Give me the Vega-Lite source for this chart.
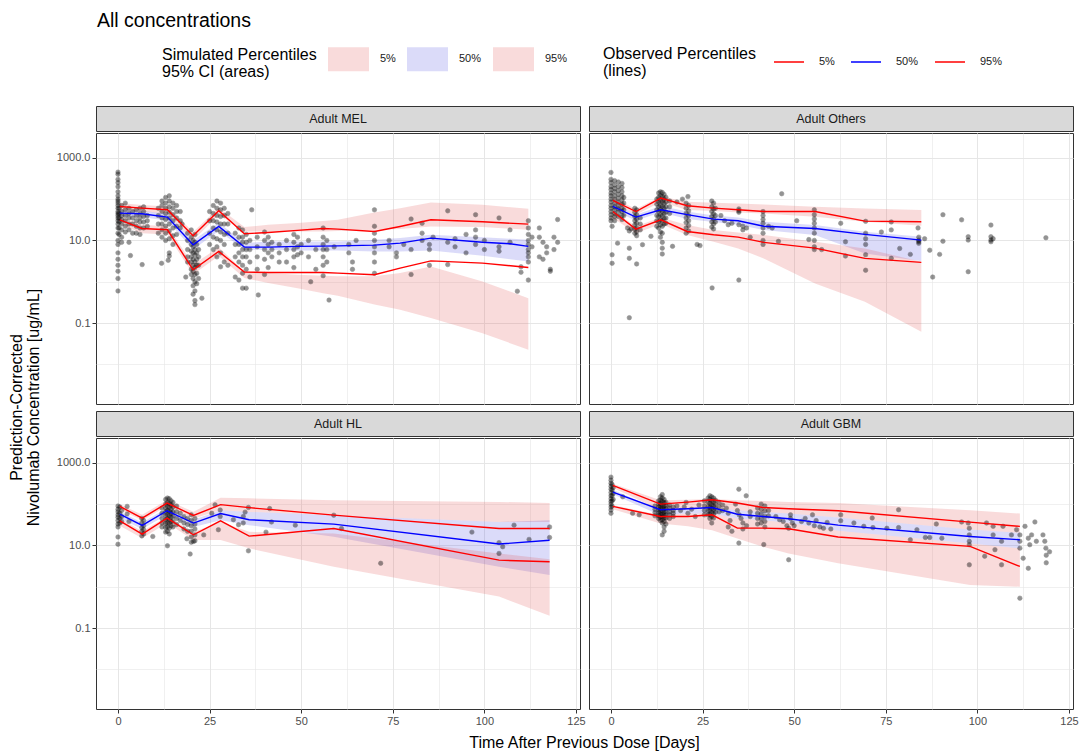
{
"$schema":"https://vega.github.io/schema/vega-lite/v6.json",
"background":"white",
"padding":{"left":0,"top":10,"right":0,"bottom":0},
"title":{"text":"All concentrations","anchor":"start","frame":"group","dx":97,"fontSize":19.5,"fontWeight":"normal","color":"#000000","offset":7.5},
"config":{
 "font":"Liberation Sans",
 "view":{"stroke":"#333333"},
 "axis":{"domain":false,"gridColor":"#e6e6e6","labelColor":"#4d4d4d","labelFontSize":11,"tickColor":"#333333","tickSize":4,"labelPadding":2,"titleFontSize":16,"titleFontWeight":"normal","titleColor":"#000000","labelFlush":false,"labelOverlap":false},
 "legend":{"labelFontSize":11,"labelColor":"#1a1a1a","titleFontSize":16,"titleFontWeight":"normal","titleColor":"#000000","titleLineHeight":17,"padding":0,"titleLimit":400}
},
"datasets":{
"rug":[
{"p":"MEL","t":0},{"p":"MEL","t":3.1},{"p":"MEL","t":9.9},{"p":"MEL","t":17},{"p":"MEL","t":23.8},{"p":"MEL","t":32},{"p":"MEL","t":44.9},{"p":"MEL","t":60.5},{"p":"MEL","t":77.5},{"p":"MEL","t":99.2},{"p":"MEL","t":119.9},
{"p":"OTH","t":0},{"p":"OTH","t":3.2},{"p":"OTH","t":9.1},{"p":"OTH","t":18.8},{"p":"OTH","t":31.3},{"p":"OTH","t":46.4},{"p":"OTH","t":62.7},{"p":"OTH","t":77.7},{"p":"OTH","t":104.6},
{"p":"HL","t":0},{"p":"HL","t":3.1},{"p":"HL","t":9.9},{"p":"HL","t":17},{"p":"HL","t":23.8},{"p":"HL","t":32.4},{"p":"HL","t":45.9},{"p":"HL","t":66.3},{"p":"HL","t":109.9},
{"p":"GBM","t":0},{"p":"GBM","t":4.1},{"p":"GBM","t":16},{"p":"GBM","t":22.9},{"p":"GBM","t":31.1},{"p":"GBM","t":37.8},{"p":"GBM","t":44.8},{"p":"GBM","t":55.9},{"p":"GBM","t":78.8},{"p":"GBM","t":99.8},{"p":"GBM","t":116.2}
],
"bands":[
{"p":"MEL","pct":"95%","t":0.5,"v":55,"v2":80},{"p":"MEL","pct":"95%","t":6.5,"v":50,"v2":72},{"p":"MEL","pct":"95%","t":13.5,"v":45,"v2":66},{"p":"MEL","pct":"95%","t":20.5,"v":10,"v2":16},{"p":"MEL","pct":"95%","t":27.5,"v":42,"v2":62},{"p":"MEL","pct":"95%","t":34.5,"v":16.5,"v2":21},{"p":"MEL","pct":"95%","t":41,"v":16.5,"v2":23.9},{"p":"MEL","pct":"95%","t":49,"v":16.5,"v2":26.3},{"p":"MEL","pct":"95%","t":56,"v":16.5,"v2":29.4},{"p":"MEL","pct":"95%","t":60,"v":17,"v2":31.6},{"p":"MEL","pct":"95%","t":70,"v":18.1,"v2":47.6},{"p":"MEL","pct":"95%","t":77,"v":19,"v2":60.5},{"p":"MEL","pct":"95%","t":85.4,"v":21.8,"v2":83},{"p":"MEL","pct":"95%","t":99.5,"v":21,"v2":73},{"p":"MEL","pct":"95%","t":112,"v":18.1,"v2":58.3},
{"p":"MEL","pct":"50%","t":0.5,"v":38,"v2":55},{"p":"MEL","pct":"50%","t":6.5,"v":37,"v2":52},{"p":"MEL","pct":"50%","t":13.5,"v":30,"v2":44},{"p":"MEL","pct":"50%","t":20.5,"v":6,"v2":10},{"p":"MEL","pct":"50%","t":27.5,"v":17,"v2":27},{"p":"MEL","pct":"50%","t":34.5,"v":5.94,"v2":8.6},{"p":"MEL","pct":"50%","t":41,"v":5.94,"v2":9.46},{"p":"MEL","pct":"50%","t":49,"v":5.73,"v2":9.46},{"p":"MEL","pct":"50%","t":56,"v":5.73,"v2":9.46},{"p":"MEL","pct":"50%","t":60,"v":5.73,"v2":9.46},{"p":"MEL","pct":"50%","t":70,"v":5.42,"v2":10.4},{"p":"MEL","pct":"50%","t":77,"v":5.42,"v2":11.4},{"p":"MEL","pct":"50%","t":85.4,"v":5.73,"v2":13.7},{"p":"MEL","pct":"50%","t":99.5,"v":4.26,"v2":12},{"p":"MEL","pct":"50%","t":112,"v":3.1,"v2":10.4},
{"p":"MEL","pct":"5%","t":0.5,"v":25,"v2":38},{"p":"MEL","pct":"5%","t":6.5,"v":15,"v2":24},{"p":"MEL","pct":"5%","t":13.5,"v":14,"v2":22},{"p":"MEL","pct":"5%","t":20.5,"v":1.5,"v2":2.6},{"p":"MEL","pct":"5%","t":27.5,"v":4.2,"v2":6.8},{"p":"MEL","pct":"5%","t":34.5,"v":1.23,"v2":1.78},{"p":"MEL","pct":"5%","t":41,"v":0.93,"v2":1.62},{"p":"MEL","pct":"5%","t":49,"v":0.7,"v2":1.48},{"p":"MEL","pct":"5%","t":56,"v":0.53,"v2":1.4},{"p":"MEL","pct":"5%","t":60,"v":0.46,"v2":1.35},{"p":"MEL","pct":"5%","t":70,"v":0.28,"v2":1.35},{"p":"MEL","pct":"5%","t":77,"v":0.21,"v2":1.62},{"p":"MEL","pct":"5%","t":85.4,"v":0.132,"v2":2.35},{"p":"MEL","pct":"5%","t":99.5,"v":0.057,"v2":1.02},{"p":"MEL","pct":"5%","t":112,"v":0.0226,"v2":0.4},
{"p":"OTH","pct":"95%","t":0.5,"v":80,"v2":110},{"p":"OTH","pct":"95%","t":6.8,"v":42,"v2":58},{"p":"OTH","pct":"95%","t":13.6,"v":85,"v2":115},{"p":"OTH","pct":"95%","t":20.8,"v":54.2,"v2":86},{"p":"OTH","pct":"95%","t":28,"v":51.3,"v2":81.5},{"p":"OTH","pct":"95%","t":34.7,"v":47.6,"v2":78.5},{"p":"OTH","pct":"95%","t":41.7,"v":45,"v2":74.3},{"p":"OTH","pct":"95%","t":55.7,"v":37.4,"v2":65.3},{"p":"OTH","pct":"95%","t":69.3,"v":28.3,"v2":59.5},{"p":"OTH","pct":"95%","t":84.7,"v":22.6,"v2":54.2},
{"p":"OTH","pct":"50%","t":0.5,"v":55,"v2":80},{"p":"OTH","pct":"50%","t":6.8,"v":30,"v2":42},{"p":"OTH","pct":"50%","t":13.6,"v":48,"v2":68},{"p":"OTH","pct":"50%","t":20.8,"v":33,"v2":50},{"p":"OTH","pct":"50%","t":28,"v":28,"v2":40},{"p":"OTH","pct":"50%","t":34.7,"v":24,"v2":36},{"p":"OTH","pct":"50%","t":41.7,"v":17.8,"v2":28.3},{"p":"OTH","pct":"50%","t":55.7,"v":13.5,"v2":23.5},{"p":"OTH","pct":"50%","t":69.3,"v":4.8,"v2":16.2},{"p":"OTH","pct":"50%","t":84.7,"v":3.2,"v2":12.3},
{"p":"OTH","pct":"5%","t":0.5,"v":35,"v2":52},{"p":"OTH","pct":"5%","t":6.8,"v":15,"v2":22},{"p":"OTH","pct":"5%","t":13.6,"v":25,"v2":36},{"p":"OTH","pct":"5%","t":20.8,"v":13.5,"v2":23.5},{"p":"OTH","pct":"5%","t":28,"v":9.3,"v2":17.8},{"p":"OTH","pct":"5%","t":34.7,"v":6.4,"v2":15.6},{"p":"OTH","pct":"5%","t":41.7,"v":3.67,"v2":13.5},{"p":"OTH","pct":"5%","t":55.7,"v":0.91,"v2":9.3},{"p":"OTH","pct":"5%","t":69.3,"v":0.33,"v2":6.4},{"p":"OTH","pct":"5%","t":84.7,"v":0.062,"v2":3.05},
{"p":"HL","pct":"95%","t":0.5,"v":75,"v2":100},{"p":"HL","pct":"95%","t":6.6,"v":40,"v2":55},{"p":"HL","pct":"95%","t":13.4,"v":90,"v2":125},{"p":"HL","pct":"95%","t":20.6,"v":45,"v2":65},{"p":"HL","pct":"95%","t":28,"v":71,"v2":143},{"p":"HL","pct":"95%","t":35.8,"v":64.7,"v2":138},{"p":"HL","pct":"95%","t":58.9,"v":53.8,"v2":124},{"p":"HL","pct":"95%","t":104,"v":37,"v2":113},{"p":"HL","pct":"95%","t":117.8,"v":37,"v2":107},
{"p":"HL","pct":"50%","t":0.5,"v":45,"v2":65},{"p":"HL","pct":"50%","t":6.6,"v":25,"v2":36},{"p":"HL","pct":"50%","t":13.4,"v":55,"v2":80},{"p":"HL","pct":"50%","t":20.6,"v":28,"v2":42},{"p":"HL","pct":"50%","t":28,"v":40.7,"v2":71},{"p":"HL","pct":"50%","t":35.8,"v":30.9,"v2":64.7},{"p":"HL","pct":"50%","t":58.9,"v":16.2,"v2":53.8},{"p":"HL","pct":"50%","t":104,"v":3.06,"v2":37},{"p":"HL","pct":"50%","t":117.8,"v":1.93,"v2":40.7},
{"p":"HL","pct":"5%","t":0.5,"v":30,"v2":45},{"p":"HL","pct":"5%","t":6.6,"v":15,"v2":22},{"p":"HL","pct":"5%","t":13.4,"v":35,"v2":50},{"p":"HL","pct":"5%","t":20.6,"v":13.5,"v2":21},{"p":"HL","pct":"5%","t":28,"v":13.5,"v2":37},{"p":"HL","pct":"5%","t":35.8,"v":8.5,"v2":21.3},{"p":"HL","pct":"5%","t":58.9,"v":3.06,"v2":19.5},{"p":"HL","pct":"5%","t":104,"v":0.58,"v2":6.4},{"p":"HL","pct":"5%","t":117.8,"v":0.198,"v2":4.6},
{"p":"GBM","pct":"95%","t":0.5,"v":250,"v2":312},{"p":"GBM","pct":"95%","t":13.5,"v":71,"v2":124},{"p":"GBM","pct":"95%","t":21,"v":78,"v2":128},{"p":"GBM","pct":"95%","t":27.6,"v":82,"v2":133},{"p":"GBM","pct":"95%","t":34.5,"v":71,"v2":124},{"p":"GBM","pct":"95%","t":41.5,"v":64.7,"v2":119},{"p":"GBM","pct":"95%","t":48.5,"v":59,"v2":113},{"p":"GBM","pct":"95%","t":62,"v":47.3,"v2":107},{"p":"GBM","pct":"95%","t":98,"v":24.3,"v2":71},{"p":"GBM","pct":"95%","t":111.6,"v":20.2,"v2":59},
{"p":"GBM","pct":"50%","t":0.5,"v":173,"v2":223},{"p":"GBM","pct":"50%","t":13.5,"v":53.8,"v2":71},{"p":"GBM","pct":"50%","t":21,"v":59,"v2":78},{"p":"GBM","pct":"50%","t":27.6,"v":59,"v2":82},{"p":"GBM","pct":"50%","t":34.5,"v":44.8,"v2":71},{"p":"GBM","pct":"50%","t":41.5,"v":40.7,"v2":64.7},{"p":"GBM","pct":"50%","t":48.5,"v":35.2,"v2":59},{"p":"GBM","pct":"50%","t":62,"v":22.6,"v2":47.3},{"p":"GBM","pct":"50%","t":98,"v":11.2,"v2":24.3},{"p":"GBM","pct":"50%","t":111.6,"v":8.5,"v2":20.2},
{"p":"GBM","pct":"5%","t":0.5,"v":75,"v2":95},{"p":"GBM","pct":"5%","t":13.5,"v":33.9,"v2":53.8},{"p":"GBM","pct":"5%","t":21,"v":29.2,"v2":59},{"p":"GBM","pct":"5%","t":27.6,"v":23.4,"v2":59},{"p":"GBM","pct":"5%","t":34.5,"v":14.8,"v2":44.8},{"p":"GBM","pct":"5%","t":41.5,"v":9.3,"v2":40.7},{"p":"GBM","pct":"5%","t":48.5,"v":6.4,"v2":35.2},{"p":"GBM","pct":"5%","t":62,"v":3.68,"v2":22.6},{"p":"GBM","pct":"5%","t":98,"v":1.1,"v2":11.2},{"p":"GBM","pct":"5%","t":111.6,"v":1.0,"v2":8.5}
],
"lines":[
{"p":"MEL","q":"95%","t":0.5,"v":66.5},{"p":"MEL","q":"95%","t":6.5,"v":60.5},{"p":"MEL","q":"95%","t":13.5,"v":55.2},{"p":"MEL","q":"95%","t":20.5,"v":13},{"p":"MEL","q":"95%","t":27.5,"v":52.3},{"p":"MEL","q":"95%","t":34.5,"v":14.5},{"p":"MEL","q":"95%","t":41,"v":15.6},{"p":"MEL","q":"95%","t":49,"v":17.5},{"p":"MEL","q":"95%","t":56,"v":19.5},{"p":"MEL","q":"95%","t":60,"v":18.8},{"p":"MEL","q":"95%","t":70,"v":16.5},{"p":"MEL","q":"95%","t":77,"v":21.8},{"p":"MEL","q":"95%","t":85.4,"v":31.6},{"p":"MEL","q":"95%","t":99.5,"v":28.3},{"p":"MEL","q":"95%","t":112,"v":24.8},
{"p":"MEL","q":"50%","t":0.5,"v":45.8},{"p":"MEL","q":"50%","t":6.5,"v":44.2},{"p":"MEL","q":"50%","t":13.5,"v":36.7},{"p":"MEL","q":"50%","t":20.5,"v":7.85},{"p":"MEL","q":"50%","t":27.5,"v":21.8},{"p":"MEL","q":"50%","t":34.5,"v":6.9},{"p":"MEL","q":"50%","t":41,"v":6.9},{"p":"MEL","q":"50%","t":49,"v":7.2},{"p":"MEL","q":"50%","t":56,"v":7.3},{"p":"MEL","q":"50%","t":60,"v":7.4},{"p":"MEL","q":"50%","t":70,"v":7.7},{"p":"MEL","q":"50%","t":77,"v":8.6},{"p":"MEL","q":"50%","t":85.4,"v":11.4},{"p":"MEL","q":"50%","t":99.5,"v":9},{"p":"MEL","q":"50%","t":107,"v":8.3},{"p":"MEL","q":"50%","t":112,"v":7.2},
{"p":"MEL","q":"5%","t":0.5,"v":31.6},{"p":"MEL","q":"5%","t":6.5,"v":19.5},{"p":"MEL","q":"5%","t":13.5,"v":18.1},{"p":"MEL","q":"5%","t":20.5,"v":1.95},{"p":"MEL","q":"5%","t":27.5,"v":5.4},{"p":"MEL","q":"5%","t":34.5,"v":1.71},{"p":"MEL","q":"5%","t":41,"v":1.68},{"p":"MEL","q":"5%","t":49,"v":1.68},{"p":"MEL","q":"5%","t":56,"v":1.68},{"p":"MEL","q":"5%","t":60,"v":1.62},{"p":"MEL","q":"5%","t":70,"v":1.48},{"p":"MEL","q":"5%","t":77,"v":2.14},{"p":"MEL","q":"5%","t":85.4,"v":3.2},{"p":"MEL","q":"5%","t":99.5,"v":2.83},{"p":"MEL","q":"5%","t":112,"v":2.22},
{"p":"OTH","q":"95%","t":0.5,"v":93},{"p":"OTH","q":"95%","t":6.8,"v":50},{"p":"OTH","q":"95%","t":13.6,"v":106},{"p":"OTH","q":"95%","t":20.8,"v":69},{"p":"OTH","q":"95%","t":28,"v":60.5},{"p":"OTH","q":"95%","t":34.7,"v":55.2},{"p":"OTH","q":"95%","t":41.7,"v":50.3},{"p":"OTH","q":"95%","t":55.7,"v":50.3},{"p":"OTH","q":"95%","t":69.3,"v":29.4},{"p":"OTH","q":"95%","t":84.7,"v":28.3},
{"p":"OTH","q":"50%","t":0.5,"v":66.5},{"p":"OTH","q":"50%","t":6.8,"v":36.7},{"p":"OTH","q":"50%","t":13.6,"v":55.2},{"p":"OTH","q":"50%","t":20.8,"v":42},{"p":"OTH","q":"50%","t":28,"v":32.8},{"p":"OTH","q":"50%","t":34.7,"v":30},{"p":"OTH","q":"50%","t":41.7,"v":22},{"p":"OTH","q":"50%","t":55.7,"v":19.5},{"p":"OTH","q":"50%","t":69.3,"v":14},{"p":"OTH","q":"50%","t":84.7,"v":10.2},
{"p":"OTH","q":"5%","t":0.5,"v":50.3},{"p":"OTH","q":"5%","t":6.8,"v":18.8},{"p":"OTH","q":"5%","t":13.6,"v":31.6},{"p":"OTH","q":"5%","t":20.8,"v":16.5},{"p":"OTH","q":"5%","t":28,"v":13.7},{"p":"OTH","q":"5%","t":34.7,"v":12},{"p":"OTH","q":"5%","t":41.7,"v":8.95},{"p":"OTH","q":"5%","t":55.7,"v":6.5},{"p":"OTH","q":"5%","t":69.3,"v":3.67},{"p":"OTH","q":"5%","t":84.7,"v":2.94},
{"p":"HL","q":"95%","t":0.5,"v":88},{"p":"HL","q":"95%","t":6.6,"v":45.8},{"p":"HL","q":"95%","t":13.4,"v":106},{"p":"HL","q":"95%","t":20.6,"v":53},{"p":"HL","q":"95%","t":28,"v":97},{"p":"HL","q":"95%","t":35.8,"v":82},{"p":"HL","q":"95%","t":58.9,"v":54},{"p":"HL","q":"95%","t":104,"v":25.7},{"p":"HL","q":"95%","t":117.8,"v":25.7},
{"p":"HL","q":"50%","t":0.5,"v":57},{"p":"HL","q":"50%","t":6.6,"v":30.5},{"p":"HL","q":"50%","t":13.4,"v":69},{"p":"HL","q":"50%","t":20.6,"v":34.7},{"p":"HL","q":"50%","t":28,"v":59},{"p":"HL","q":"50%","t":35.8,"v":42},{"p":"HL","q":"50%","t":58.9,"v":32.7},{"p":"HL","q":"50%","t":104,"v":10.8},{"p":"HL","q":"50%","t":117.8,"v":13.4},
{"p":"HL","q":"5%","t":0.5,"v":39.5},{"p":"HL","q":"5%","t":6.6,"v":18.8},{"p":"HL","q":"5%","t":13.4,"v":45.8},{"p":"HL","q":"5%","t":20.6,"v":18.1},{"p":"HL","q":"5%","t":28,"v":39.4},{"p":"HL","q":"5%","t":35.8,"v":16.8},{"p":"HL","q":"5%","t":58.9,"v":25.7},{"p":"HL","q":"5%","t":104,"v":4.4},{"p":"HL","q":"5%","t":117.8,"v":4.04},
{"p":"GBM","q":"95%","t":0.5,"v":283},{"p":"GBM","q":"95%","t":13.5,"v":100},{"p":"GBM","q":"95%","t":21,"v":112},{"p":"GBM","q":"95%","t":27.6,"v":127},{"p":"GBM","q":"95%","t":34.5,"v":106},{"p":"GBM","q":"95%","t":41.5,"v":83},{"p":"GBM","q":"95%","t":48.5,"v":77},{"p":"GBM","q":"95%","t":62,"v":69},{"p":"GBM","q":"95%","t":98,"v":36.7},{"p":"GBM","q":"95%","t":111.6,"v":28.9},
{"p":"GBM","q":"50%","t":0.5,"v":195},{"p":"GBM","q":"50%","t":13.5,"v":73},{"p":"GBM","q":"50%","t":21,"v":77},{"p":"GBM","q":"50%","t":27.6,"v":83},{"p":"GBM","q":"50%","t":34.5,"v":57},{"p":"GBM","q":"50%","t":41.5,"v":50.3},{"p":"GBM","q":"50%","t":48.5,"v":44.2},{"p":"GBM","q":"50%","t":62,"v":31},{"p":"GBM","q":"50%","t":98,"v":16.5},{"p":"GBM","q":"50%","t":111.6,"v":13.7},
{"p":"GBM","q":"5%","t":0.5,"v":88},{"p":"GBM","q":"5%","t":13.5,"v":50.3},{"p":"GBM","q":"5%","t":21,"v":50.3},{"p":"GBM","q":"5%","t":27.6,"v":55.2},{"p":"GBM","q":"5%","t":34.5,"v":26.3},{"p":"GBM","q":"5%","t":41.5,"v":26.3},{"p":"GBM","q":"5%","t":48.5,"v":25.3},{"p":"GBM","q":"5%","t":62,"v":16},{"p":"GBM","q":"5%","t":98,"v":9.5},{"p":"GBM","q":"5%","t":111.6,"v":3.1}
],
"obs":[
{"p":"MEL","t":0,"v":450},{"p":"MEL","t":0,"v":400},{"p":"MEL","t":0,"v":300},{"p":"MEL","t":0,"v":250},{"p":"MEL","t":0,"v":200},{"p":"MEL","t":0,"v":150},{"p":"MEL","t":0,"v":120},{"p":"MEL","t":0,"v":100},{"p":"MEL","t":0,"v":90},{"p":"MEL","t":0,"v":80},{"p":"MEL","t":0,"v":70},{"p":"MEL","t":0,"v":60},{"p":"MEL","t":0,"v":50},{"p":"MEL","t":0,"v":45},{"p":"MEL","t":0,"v":40},{"p":"MEL","t":0,"v":35},{"p":"MEL","t":0,"v":30},{"p":"MEL","t":0,"v":25},{"p":"MEL","t":0,"v":20},{"p":"MEL","t":0,"v":15},{"p":"MEL","t":0,"v":10},{"p":"MEL","t":0,"v":8},{"p":"MEL","t":0,"v":5},{"p":"MEL","t":0,"v":3.5},{"p":"MEL","t":0,"v":2.5},{"p":"MEL","t":0,"v":1.8},{"p":"MEL","t":0,"v":1.2},{"p":"MEL","t":0,"v":0.6},
{"p":"MEL","t":0.3,"v":60},{"p":"MEL","t":0.3,"v":45},{"p":"MEL","t":0.3,"v":35},{"p":"MEL","t":0.3,"v":28},{"p":"MEL","t":0.3,"v":20},{"p":"MEL","t":0.3,"v":14},
{"p":"MEL","t":1,"v":70},{"p":"MEL","t":1,"v":50},{"p":"MEL","t":1,"v":40},{"p":"MEL","t":1,"v":32},{"p":"MEL","t":1,"v":25},{"p":"MEL","t":1,"v":18},{"p":"MEL","t":1,"v":12},{"p":"MEL","t":1,"v":9},
{"p":"MEL","t":2,"v":80},{"p":"MEL","t":2,"v":55},{"p":"MEL","t":2,"v":40},{"p":"MEL","t":2,"v":30},{"p":"MEL","t":2,"v":22},{"p":"MEL","t":2,"v":16},
{"p":"MEL","t":3,"v":60},{"p":"MEL","t":3,"v":45},{"p":"MEL","t":3,"v":35},{"p":"MEL","t":3,"v":25},{"p":"MEL","t":3,"v":18},{"p":"MEL","t":3,"v":9},{"p":"MEL","t":3.4,"v":4.3},
{"p":"MEL","t":4,"v":50},{"p":"MEL","t":4,"v":35},{"p":"MEL","t":4,"v":25},{"p":"MEL","t":4,"v":15},
{"p":"MEL","t":5,"v":55},{"p":"MEL","t":5,"v":40},{"p":"MEL","t":5,"v":30},{"p":"MEL","t":5,"v":22},{"p":"MEL","t":5,"v":15},
{"p":"MEL","t":6,"v":60},{"p":"MEL","t":6,"v":45},{"p":"MEL","t":6,"v":35},{"p":"MEL","t":6,"v":28},{"p":"MEL","t":6,"v":20},{"p":"MEL","t":6,"v":14},{"p":"MEL","t":6.6,"v":2.6},
{"p":"MEL","t":7,"v":65},{"p":"MEL","t":7,"v":50},{"p":"MEL","t":7,"v":38},{"p":"MEL","t":7,"v":28},{"p":"MEL","t":7,"v":20},
{"p":"MEL","t":8,"v":40},{"p":"MEL","t":8,"v":30},{"p":"MEL","t":8,"v":22},
{"p":"MEL","t":11,"v":60},{"p":"MEL","t":11,"v":40},{"p":"MEL","t":11,"v":25},{"p":"MEL","t":11,"v":15},{"p":"MEL","t":11.9,"v":2.8},
{"p":"MEL","t":12,"v":90},{"p":"MEL","t":12,"v":70},{"p":"MEL","t":12,"v":50},{"p":"MEL","t":12,"v":35},{"p":"MEL","t":12,"v":25},{"p":"MEL","t":12,"v":18},{"p":"MEL","t":12,"v":12},
{"p":"MEL","t":13,"v":110},{"p":"MEL","t":13,"v":80},{"p":"MEL","t":13,"v":60},{"p":"MEL","t":13,"v":45},{"p":"MEL","t":13,"v":32},{"p":"MEL","t":13,"v":22},{"p":"MEL","t":13,"v":15},{"p":"MEL","t":13,"v":10},{"p":"MEL","t":13.7,"v":3.3},
{"p":"MEL","t":14,"v":120},{"p":"MEL","t":14,"v":90},{"p":"MEL","t":14,"v":65},{"p":"MEL","t":14,"v":48},{"p":"MEL","t":14,"v":35},{"p":"MEL","t":14,"v":25},{"p":"MEL","t":14,"v":17},{"p":"MEL","t":14,"v":11},{"p":"MEL","t":14,"v":5},{"p":"MEL","t":14,"v":4.2},
{"p":"MEL","t":15,"v":80},{"p":"MEL","t":15,"v":60},{"p":"MEL","t":15,"v":42},{"p":"MEL","t":15,"v":30},{"p":"MEL","t":15,"v":20},{"p":"MEL","t":15,"v":13},{"p":"MEL","t":15,"v":8},
{"p":"MEL","t":16,"v":70},{"p":"MEL","t":16,"v":50},{"p":"MEL","t":16,"v":35},{"p":"MEL","t":16,"v":22},{"p":"MEL","t":16,"v":14},
{"p":"MEL","t":17,"v":50},{"p":"MEL","t":17,"v":30},{"p":"MEL","t":17,"v":20},{"p":"MEL","t":17.5,"v":25},{"p":"MEL","t":18.5,"v":1.3},
{"p":"MEL","t":19,"v":15},{"p":"MEL","t":19,"v":10},{"p":"MEL","t":19,"v":6},{"p":"MEL","t":19,"v":4},{"p":"MEL","t":19,"v":3},
{"p":"MEL","t":20,"v":18},{"p":"MEL","t":20,"v":12},{"p":"MEL","t":20,"v":8},{"p":"MEL","t":20,"v":5.5},{"p":"MEL","t":20,"v":4},{"p":"MEL","t":20,"v":3},{"p":"MEL","t":20,"v":2},{"p":"MEL","t":20,"v":1.5},
{"p":"MEL","t":20.5,"v":10},{"p":"MEL","t":20.5,"v":7},{"p":"MEL","t":20.5,"v":5},{"p":"MEL","t":20.5,"v":3.5},{"p":"MEL","t":20.5,"v":2.5},{"p":"MEL","t":20.5,"v":1.8},{"p":"MEL","t":20.5,"v":1.2},{"p":"MEL","t":20.5,"v":0.8},{"p":"MEL","t":20.5,"v":0.5},
{"p":"MEL","t":21,"v":14},{"p":"MEL","t":21,"v":9},{"p":"MEL","t":21,"v":6},{"p":"MEL","t":21,"v":4.5},{"p":"MEL","t":21,"v":3},{"p":"MEL","t":21,"v":2.2},{"p":"MEL","t":21,"v":1.5},{"p":"MEL","t":21,"v":1},{"p":"MEL","t":21,"v":0.6},{"p":"MEL","t":21,"v":0.35},{"p":"MEL","t":21,"v":0.28},
{"p":"MEL","t":21.5,"v":8},{"p":"MEL","t":21.5,"v":5},{"p":"MEL","t":21.5,"v":3.5},{"p":"MEL","t":21.5,"v":2.5},{"p":"MEL","t":21.5,"v":1.6},{"p":"MEL","t":21.5,"v":0.9},
{"p":"MEL","t":22,"v":6},{"p":"MEL","t":22,"v":4},{"p":"MEL","t":22,"v":2.5},{"p":"MEL","t":22,"v":1.2},{"p":"MEL","t":22.9,"v":0.4},
{"p":"MEL","t":25,"v":50},{"p":"MEL","t":25,"v":30},{"p":"MEL","t":25,"v":15},{"p":"MEL","t":25,"v":8},
{"p":"MEL","t":26,"v":70},{"p":"MEL","t":26,"v":45},{"p":"MEL","t":26,"v":30},{"p":"MEL","t":26,"v":20},{"p":"MEL","t":26,"v":12},{"p":"MEL","t":26,"v":6},
{"p":"MEL","t":27,"v":90},{"p":"MEL","t":27,"v":60},{"p":"MEL","t":27,"v":40},{"p":"MEL","t":27,"v":28},{"p":"MEL","t":27,"v":18},{"p":"MEL","t":27,"v":11},{"p":"MEL","t":27,"v":7},{"p":"MEL","t":27,"v":4},
{"p":"MEL","t":28,"v":80},{"p":"MEL","t":28,"v":55},{"p":"MEL","t":28,"v":38},{"p":"MEL","t":28,"v":25},{"p":"MEL","t":28,"v":16},{"p":"MEL","t":28,"v":10},{"p":"MEL","t":28,"v":5},{"p":"MEL","t":28,"v":2.3},
{"p":"MEL","t":29,"v":60},{"p":"MEL","t":29,"v":40},{"p":"MEL","t":29,"v":25},{"p":"MEL","t":29,"v":14},{"p":"MEL","t":29,"v":8},{"p":"MEL","t":29,"v":3},
{"p":"MEL","t":30,"v":45},{"p":"MEL","t":30,"v":25},{"p":"MEL","t":30,"v":15},{"p":"MEL","t":30,"v":2.5},
{"p":"MEL","t":32,"v":15},{"p":"MEL","t":32,"v":8},{"p":"MEL","t":32,"v":4},{"p":"MEL","t":32,"v":1.3},
{"p":"MEL","t":33,"v":20},{"p":"MEL","t":33,"v":12},{"p":"MEL","t":33,"v":8},{"p":"MEL","t":33,"v":5},{"p":"MEL","t":33,"v":3},{"p":"MEL","t":33,"v":1.1},
{"p":"MEL","t":34,"v":18},{"p":"MEL","t":34,"v":12},{"p":"MEL","t":34,"v":9},{"p":"MEL","t":34,"v":6},{"p":"MEL","t":34,"v":4},{"p":"MEL","t":34,"v":2.5},{"p":"MEL","t":34,"v":1.6},{"p":"MEL","t":34,"v":0.7},
{"p":"MEL","t":35,"v":14},{"p":"MEL","t":35,"v":9},{"p":"MEL","t":35,"v":6},{"p":"MEL","t":35,"v":4},{"p":"MEL","t":35,"v":2},{"p":"MEL","t":35,"v":0.7},
{"p":"MEL","t":36,"v":10},{"p":"MEL","t":36,"v":6},{"p":"MEL","t":36,"v":3},{"p":"MEL","t":36,"v":1.3},{"p":"MEL","t":36.5,"v":55},
{"p":"MEL","t":38,"v":12},{"p":"MEL","t":38,"v":7},{"p":"MEL","t":38,"v":4},{"p":"MEL","t":38,"v":2},{"p":"MEL","t":38.3,"v":0.48},
{"p":"MEL","t":40,"v":16},{"p":"MEL","t":40,"v":10},{"p":"MEL","t":40,"v":6},{"p":"MEL","t":40,"v":3.5},{"p":"MEL","t":40,"v":1.5},
{"p":"MEL","t":41,"v":12},{"p":"MEL","t":41,"v":8},{"p":"MEL","t":41,"v":5},{"p":"MEL","t":41,"v":2.2},
{"p":"MEL","t":42,"v":9},{"p":"MEL","t":42,"v":6},{"p":"MEL","t":42,"v":4},
{"p":"MEL","t":44,"v":8},{"p":"MEL","t":44,"v":5},{"p":"MEL","t":44,"v":3},
{"p":"MEL","t":46,"v":10},{"p":"MEL","t":46,"v":6},{"p":"MEL","t":46,"v":3},
{"p":"MEL","t":48,"v":14},{"p":"MEL","t":48,"v":9},{"p":"MEL","t":48,"v":6},{"p":"MEL","t":48,"v":4},{"p":"MEL","t":48,"v":2.2},
{"p":"MEL","t":49,"v":12},{"p":"MEL","t":49,"v":7},{"p":"MEL","t":49,"v":4.5},
{"p":"MEL","t":50,"v":8},{"p":"MEL","t":50,"v":5},{"p":"MEL","t":52,"v":10},{"p":"MEL","t":52,"v":4},{"p":"MEL","t":52.6,"v":1.0},
{"p":"MEL","t":54,"v":6},{"p":"MEL","t":54,"v":2},
{"p":"MEL","t":56,"v":20},{"p":"MEL","t":56,"v":12},{"p":"MEL","t":56,"v":8},{"p":"MEL","t":56,"v":6},{"p":"MEL","t":56,"v":4},{"p":"MEL","t":56,"v":2.5},{"p":"MEL","t":56,"v":1.4},
{"p":"MEL","t":57,"v":10},{"p":"MEL","t":57,"v":6},{"p":"MEL","t":57,"v":3},{"p":"MEL","t":57.6,"v":0.36},{"p":"MEL","t":59,"v":7},
{"p":"MEL","t":63,"v":8},{"p":"MEL","t":63,"v":5},{"p":"MEL","t":64,"v":3},{"p":"MEL","t":64,"v":2},{"p":"MEL","t":65,"v":10},
{"p":"MEL","t":70,"v":55},{"p":"MEL","t":70,"v":22},{"p":"MEL","t":70,"v":15},{"p":"MEL","t":70,"v":10},{"p":"MEL","t":70,"v":7},{"p":"MEL","t":70,"v":5},{"p":"MEL","t":70,"v":3},{"p":"MEL","t":70,"v":1.6},
{"p":"MEL","t":74,"v":10},{"p":"MEL","t":74,"v":7},{"p":"MEL","t":76,"v":5},{"p":"MEL","t":76,"v":4},{"p":"MEL","t":78,"v":8},
{"p":"MEL","t":80,"v":33},{"p":"MEL","t":80,"v":6},{"p":"MEL","t":80,"v":1.5},
{"p":"MEL","t":83,"v":26},{"p":"MEL","t":83,"v":15},{"p":"MEL","t":83,"v":10},
{"p":"MEL","t":85,"v":8},{"p":"MEL","t":85,"v":6},{"p":"MEL","t":85,"v":2.5},{"p":"MEL","t":86,"v":12},
{"p":"MEL","t":90,"v":52},{"p":"MEL","t":90,"v":9},{"p":"MEL","t":90,"v":2.6},
{"p":"MEL","t":92,"v":7},{"p":"MEL","t":92,"v":11},{"p":"MEL","t":95,"v":14},{"p":"MEL","t":95,"v":5},
{"p":"MEL","t":97.6,"v":42},{"p":"MEL","t":97.6,"v":18},{"p":"MEL","t":97.6,"v":12},{"p":"MEL","t":97.6,"v":8},
{"p":"MEL","t":100,"v":6},{"p":"MEL","t":100,"v":10},
{"p":"MEL","t":104,"v":35},{"p":"MEL","t":104,"v":7},{"p":"MEL","t":104,"v":5.5},
{"p":"MEL","t":107,"v":18},{"p":"MEL","t":107,"v":9},{"p":"MEL","t":109,"v":0.59},{"p":"MEL","t":110,"v":2.3},{"p":"MEL","t":110,"v":1.7},
{"p":"MEL","t":112,"v":30},{"p":"MEL","t":112,"v":20},{"p":"MEL","t":112,"v":14},{"p":"MEL","t":112,"v":10},{"p":"MEL","t":112,"v":8},{"p":"MEL","t":112,"v":6},{"p":"MEL","t":112,"v":5},{"p":"MEL","t":112,"v":4},{"p":"MEL","t":112,"v":3},{"p":"MEL","t":112,"v":1.1},
{"p":"MEL","t":113,"v":12},{"p":"MEL","t":113,"v":7},
{"p":"MEL","t":115,"v":20},{"p":"MEL","t":115,"v":12},{"p":"MEL","t":115,"v":4},
{"p":"MEL","t":116,"v":9},{"p":"MEL","t":116,"v":3.5},{"p":"MEL","t":117,"v":7},{"p":"MEL","t":117,"v":5},
{"p":"MEL","t":118,"v":2},{"p":"MEL","t":118,"v":1.8},{"p":"MEL","t":119,"v":12},{"p":"MEL","t":119,"v":6},{"p":"MEL","t":120,"v":32},{"p":"MEL","t":120,"v":9},
{"p":"OTH","t":0,"v":442},{"p":"OTH","t":0,"v":300},{"p":"OTH","t":0,"v":250},{"p":"OTH","t":0,"v":200},{"p":"OTH","t":0,"v":170},{"p":"OTH","t":0,"v":140},{"p":"OTH","t":0,"v":120},{"p":"OTH","t":0,"v":100},{"p":"OTH","t":0,"v":85},{"p":"OTH","t":0,"v":70},{"p":"OTH","t":0,"v":60},{"p":"OTH","t":0,"v":50},{"p":"OTH","t":0,"v":42},{"p":"OTH","t":0,"v":35},{"p":"OTH","t":0,"v":30},{"p":"OTH","t":0.3,"v":22},{"p":"OTH","t":0.3,"v":4.5},{"p":"OTH","t":0.3,"v":2.8},
{"p":"OTH","t":1,"v":280},{"p":"OTH","t":1,"v":220},{"p":"OTH","t":1,"v":180},{"p":"OTH","t":1,"v":150},{"p":"OTH","t":1,"v":120},{"p":"OTH","t":1,"v":100},{"p":"OTH","t":1,"v":80},{"p":"OTH","t":1,"v":65},{"p":"OTH","t":1,"v":55},{"p":"OTH","t":1,"v":45},{"p":"OTH","t":1,"v":38},{"p":"OTH","t":1,"v":30},{"p":"OTH","t":1.8,"v":8.6},
{"p":"OTH","t":2,"v":260},{"p":"OTH","t":2,"v":200},{"p":"OTH","t":2,"v":160},{"p":"OTH","t":2,"v":130},{"p":"OTH","t":2,"v":105},{"p":"OTH","t":2,"v":85},{"p":"OTH","t":2,"v":70},{"p":"OTH","t":2,"v":58},{"p":"OTH","t":2,"v":48},{"p":"OTH","t":2,"v":38},
{"p":"OTH","t":3,"v":240},{"p":"OTH","t":3,"v":190},{"p":"OTH","t":3,"v":150},{"p":"OTH","t":3,"v":120},{"p":"OTH","t":3,"v":95},{"p":"OTH","t":3,"v":75},{"p":"OTH","t":3,"v":60},{"p":"OTH","t":3,"v":50},{"p":"OTH","t":3,"v":40},{"p":"OTH","t":3,"v":32},
{"p":"OTH","t":3.5,"v":110},{"p":"OTH","t":3.5,"v":80},{"p":"OTH","t":3.5,"v":55},{"p":"OTH","t":3.5,"v":40},
{"p":"OTH","t":4.5,"v":20},{"p":"OTH","t":5,"v":17},{"p":"OTH","t":5,"v":6.5},{"p":"OTH","t":5,"v":3.7},{"p":"OTH","t":5,"v":0.135},{"p":"OTH","t":5.5,"v":19},
{"p":"OTH","t":6.5,"v":60},{"p":"OTH","t":6.5,"v":48},{"p":"OTH","t":6.5,"v":38},{"p":"OTH","t":6.5,"v":30},{"p":"OTH","t":6.5,"v":24},{"p":"OTH","t":6.5,"v":19},{"p":"OTH","t":6.5,"v":15},
{"p":"OTH","t":7,"v":55},{"p":"OTH","t":7,"v":42},{"p":"OTH","t":7,"v":33},{"p":"OTH","t":7,"v":26},{"p":"OTH","t":7,"v":20},{"p":"OTH","t":7,"v":16},{"p":"OTH","t":7,"v":13},{"p":"OTH","t":7,"v":2.7},
{"p":"OTH","t":8,"v":35},{"p":"OTH","t":8,"v":25},{"p":"OTH","t":8,"v":18},{"p":"OTH","t":8.6,"v":7.9},{"p":"OTH","t":10.9,"v":12.6},
{"p":"OTH","t":12.5,"v":100},{"p":"OTH","t":12.5,"v":75},{"p":"OTH","t":12.5,"v":55},{"p":"OTH","t":12.5,"v":40},{"p":"OTH","t":12.5,"v":30},{"p":"OTH","t":12.5,"v":22},
{"p":"OTH","t":13,"v":140},{"p":"OTH","t":13,"v":110},{"p":"OTH","t":13,"v":85},{"p":"OTH","t":13,"v":65},{"p":"OTH","t":13,"v":50},{"p":"OTH","t":13,"v":38},{"p":"OTH","t":13,"v":28},{"p":"OTH","t":13,"v":20},
{"p":"OTH","t":13.5,"v":150},{"p":"OTH","t":13.5,"v":120},{"p":"OTH","t":13.5,"v":90},{"p":"OTH","t":13.5,"v":70},{"p":"OTH","t":13.5,"v":55},{"p":"OTH","t":13.5,"v":42},{"p":"OTH","t":13.5,"v":32},{"p":"OTH","t":13.5,"v":24},{"p":"OTH","t":13.5,"v":16},{"p":"OTH","t":13.5,"v":12},
{"p":"OTH","t":14,"v":145},{"p":"OTH","t":14,"v":115},{"p":"OTH","t":14,"v":88},{"p":"OTH","t":14,"v":68},{"p":"OTH","t":14,"v":52},{"p":"OTH","t":14,"v":40},{"p":"OTH","t":14,"v":30},{"p":"OTH","t":14,"v":22},{"p":"OTH","t":14,"v":15},{"p":"OTH","t":14,"v":9},{"p":"OTH","t":14,"v":6.5},{"p":"OTH","t":14,"v":4.7},
{"p":"OTH","t":14.5,"v":130},{"p":"OTH","t":14.5,"v":100},{"p":"OTH","t":14.5,"v":78},{"p":"OTH","t":14.5,"v":60},{"p":"OTH","t":14.5,"v":45},{"p":"OTH","t":14.5,"v":34},{"p":"OTH","t":14.5,"v":25},
{"p":"OTH","t":15,"v":110},{"p":"OTH","t":15,"v":85},{"p":"OTH","t":15,"v":65},{"p":"OTH","t":15,"v":48},{"p":"OTH","t":15,"v":35},{"p":"OTH","t":15,"v":26},
{"p":"OTH","t":16,"v":90},{"p":"OTH","t":16,"v":65},{"p":"OTH","t":16,"v":45},{"p":"OTH","t":16.8,"v":7.2},
{"p":"OTH","t":18,"v":85},{"p":"OTH","t":19.5,"v":100},{"p":"OTH","t":21,"v":115},
{"p":"OTH","t":20.5,"v":80},{"p":"OTH","t":20.5,"v":60},{"p":"OTH","t":20.5,"v":45},{"p":"OTH","t":20.5,"v":35},{"p":"OTH","t":20.5,"v":27},{"p":"OTH","t":20.5,"v":20},{"p":"OTH","t":20.5,"v":15},
{"p":"OTH","t":21.2,"v":70},{"p":"OTH","t":21.2,"v":52},{"p":"OTH","t":21.2,"v":40},{"p":"OTH","t":21.2,"v":30},{"p":"OTH","t":21.2,"v":23},{"p":"OTH","t":21.2,"v":17},
{"p":"OTH","t":23.5,"v":8},{"p":"OTH","t":24.3,"v":7.5},
{"p":"OTH","t":27.5,"v":90},{"p":"OTH","t":27.5,"v":65},{"p":"OTH","t":27.5,"v":50},{"p":"OTH","t":27.5,"v":38},{"p":"OTH","t":27.5,"v":28},{"p":"OTH","t":27.5,"v":21},{"p":"OTH","t":27.6,"v":0.71},
{"p":"OTH","t":28,"v":80},{"p":"OTH","t":28,"v":58},{"p":"OTH","t":28,"v":44},{"p":"OTH","t":28,"v":33},{"p":"OTH","t":28,"v":25},{"p":"OTH","t":28,"v":19},
{"p":"OTH","t":28.5,"v":60},{"p":"OTH","t":28.5,"v":40},{"p":"OTH","t":28.5,"v":28},
{"p":"OTH","t":30,"v":40},{"p":"OTH","t":31,"v":30},{"p":"OTH","t":32,"v":24},{"p":"OTH","t":33,"v":26},
{"p":"OTH","t":34.9,"v":58},{"p":"OTH","t":34.9,"v":52},{"p":"OTH","t":34.9,"v":48},{"p":"OTH","t":34.9,"v":24},{"p":"OTH","t":34.9,"v":1.1},
{"p":"OTH","t":36,"v":22},{"p":"OTH","t":36,"v":18},{"p":"OTH","t":37,"v":20},{"p":"OTH","t":38,"v":12},
{"p":"OTH","t":41.5,"v":50},{"p":"OTH","t":41.5,"v":40},{"p":"OTH","t":41.5,"v":32},{"p":"OTH","t":41.5,"v":26},{"p":"OTH","t":41.5,"v":20},{"p":"OTH","t":41.5,"v":15},{"p":"OTH","t":41.5,"v":10},{"p":"OTH","t":41.5,"v":8},
{"p":"OTH","t":43,"v":22},{"p":"OTH","t":44,"v":20},{"p":"OTH","t":45.7,"v":9.5},{"p":"OTH","t":46.6,"v":135},{"p":"OTH","t":50.7,"v":30},{"p":"OTH","t":54,"v":10.5},
{"p":"OTH","t":55.5,"v":55},{"p":"OTH","t":55.5,"v":42},{"p":"OTH","t":55.5,"v":33},{"p":"OTH","t":55.5,"v":26},{"p":"OTH","t":55.5,"v":20},{"p":"OTH","t":55.5,"v":15},{"p":"OTH","t":55.5,"v":10},{"p":"OTH","t":55.5,"v":7},{"p":"OTH","t":55.5,"v":6},
{"p":"OTH","t":57.5,"v":6},{"p":"OTH","t":62.7,"v":26},{"p":"OTH","t":64,"v":9.3},{"p":"OTH","t":64,"v":4.2},
{"p":"OTH","t":69.5,"v":29},{"p":"OTH","t":69.5,"v":15},{"p":"OTH","t":69.5,"v":11},{"p":"OTH","t":69.5,"v":8},{"p":"OTH","t":69.5,"v":4.5},{"p":"OTH","t":69.5,"v":1.9},
{"p":"OTH","t":73.8,"v":16},{"p":"OTH","t":76.5,"v":28},{"p":"OTH","t":76.5,"v":18},{"p":"OTH","t":76.5,"v":3.7},{"p":"OTH","t":78.8,"v":6.4},{"p":"OTH","t":81.7,"v":4.6},
{"p":"OTH","t":83.8,"v":20},{"p":"OTH","t":84,"v":9.3},{"p":"OTH","t":84,"v":8.5},{"p":"OTH","t":84,"v":10},{"p":"OTH","t":84,"v":12},{"p":"OTH","t":85.6,"v":11},{"p":"OTH","t":87,"v":5.8},{"p":"OTH","t":87.8,"v":1.3},{"p":"OTH","t":89.7,"v":4.6},
{"p":"OTH","t":90.6,"v":42},{"p":"OTH","t":90.6,"v":9.6},{"p":"OTH","t":95.7,"v":31.5},{"p":"OTH","t":97.5,"v":12.3},{"p":"OTH","t":97.5,"v":10.2},{"p":"OTH","t":97.5,"v":1.75},
{"p":"OTH","t":103.7,"v":23.5},{"p":"OTH","t":103.7,"v":12.3},{"p":"OTH","t":103.7,"v":10.2},{"p":"OTH","t":103.7,"v":9.3},{"p":"OTH","t":104.3,"v":11},{"p":"OTH","t":118.7,"v":11.6},
{"p":"HL","t":0,"v":90},{"p":"HL","t":0,"v":75},{"p":"HL","t":0,"v":65},{"p":"HL","t":0,"v":55},{"p":"HL","t":0,"v":48},{"p":"HL","t":0,"v":40},{"p":"HL","t":0,"v":33},{"p":"HL","t":0,"v":28},{"p":"HL","t":0,"v":16},{"p":"HL","t":0,"v":10.7},
{"p":"HL","t":0.5,"v":85},{"p":"HL","t":0.5,"v":60},{"p":"HL","t":0.5,"v":45},{"p":"HL","t":0.5,"v":35},{"p":"HL","t":1,"v":70},{"p":"HL","t":1,"v":50},{"p":"HL","t":1,"v":38},
{"p":"HL","t":2.5,"v":88},{"p":"HL","t":2.5,"v":58},{"p":"HL","t":3,"v":38},
{"p":"HL","t":6.5,"v":45},{"p":"HL","t":6.5,"v":35},{"p":"HL","t":6.5,"v":27},{"p":"HL","t":6.5,"v":22},{"p":"HL","t":6.5,"v":17},{"p":"HL","t":7,"v":40},{"p":"HL","t":7,"v":30},{"p":"HL","t":7,"v":24},{"p":"HL","t":7,"v":19},{"p":"HL","t":9.5,"v":16.5},
{"p":"HL","t":12,"v":80},{"p":"HL","t":12,"v":60},{"p":"HL","t":12,"v":45},{"p":"HL","t":12,"v":35},{"p":"HL","t":12,"v":28},
{"p":"HL","t":13,"v":130},{"p":"HL","t":13,"v":100},{"p":"HL","t":13,"v":80},{"p":"HL","t":13,"v":65},{"p":"HL","t":13,"v":52},{"p":"HL","t":13,"v":42},{"p":"HL","t":13,"v":34},{"p":"HL","t":13,"v":27},{"p":"HL","t":13,"v":21},
{"p":"HL","t":13.5,"v":140},{"p":"HL","t":13.5,"v":110},{"p":"HL","t":13.5,"v":88},{"p":"HL","t":13.5,"v":70},{"p":"HL","t":13.5,"v":55},{"p":"HL","t":13.5,"v":44},{"p":"HL","t":13.5,"v":35},{"p":"HL","t":13.5,"v":28},{"p":"HL","t":13.5,"v":22},{"p":"HL","t":13.5,"v":9.8},
{"p":"HL","t":14,"v":135},{"p":"HL","t":14,"v":105},{"p":"HL","t":14,"v":85},{"p":"HL","t":14,"v":68},{"p":"HL","t":14,"v":54},{"p":"HL","t":14,"v":43},{"p":"HL","t":14,"v":34},{"p":"HL","t":14,"v":26},{"p":"HL","t":14,"v":19},
{"p":"HL","t":14.5,"v":120},{"p":"HL","t":14.5,"v":95},{"p":"HL","t":14.5,"v":75},{"p":"HL","t":14.5,"v":60},{"p":"HL","t":14.5,"v":48},{"p":"HL","t":14.5,"v":38},{"p":"HL","t":14.5,"v":30},
{"p":"HL","t":15,"v":110},{"p":"HL","t":15,"v":85},{"p":"HL","t":15,"v":65},{"p":"HL","t":15,"v":50},{"p":"HL","t":15,"v":38},{"p":"HL","t":15,"v":28},
{"p":"HL","t":16,"v":90},{"p":"HL","t":16,"v":65},{"p":"HL","t":16,"v":45},{"p":"HL","t":16,"v":32},{"p":"HL","t":17,"v":60},{"p":"HL","t":17,"v":40},
{"p":"HL","t":18,"v":50},{"p":"HL","t":18,"v":35},{"p":"HL","t":18,"v":25},{"p":"HL","t":18.8,"v":14.5},
{"p":"HL","t":19,"v":45},{"p":"HL","t":19,"v":32},{"p":"HL","t":19,"v":22},{"p":"HL","t":19.7,"v":6.2},
{"p":"HL","t":20,"v":55},{"p":"HL","t":20,"v":40},{"p":"HL","t":20,"v":30},{"p":"HL","t":20,"v":22},{"p":"HL","t":20,"v":16},{"p":"HL","t":20,"v":12},{"p":"HL","t":20.6,"v":12.5},
{"p":"HL","t":21,"v":45},{"p":"HL","t":21,"v":33},{"p":"HL","t":21,"v":25},{"p":"HL","t":21,"v":18},{"p":"HL","t":21,"v":13},
{"p":"HL","t":23.4,"v":18},{"p":"HL","t":25.6,"v":60},{"p":"HL","t":26.5,"v":96},{"p":"HL","t":27.4,"v":24},{"p":"HL","t":27.9,"v":72},{"p":"HL","t":27.9,"v":50},
{"p":"HL","t":31.5,"v":42},{"p":"HL","t":32.9,"v":31.6},{"p":"HL","t":34.2,"v":35},{"p":"HL","t":34.2,"v":50},{"p":"HL","t":34.7,"v":64},{"p":"HL","t":35.6,"v":83},{"p":"HL","t":35.6,"v":7.4},
{"p":"HL","t":40.4,"v":21},{"p":"HL","t":41.4,"v":78},{"p":"HL","t":41.9,"v":37},{"p":"HL","t":48.4,"v":31},{"p":"HL","t":58.9,"v":54},{"p":"HL","t":61,"v":25.7},{"p":"HL","t":71.7,"v":3.7},
{"p":"HL","t":96.6,"v":21},{"p":"HL","t":104,"v":11.7},{"p":"HL","t":104,"v":6.4},{"p":"HL","t":105,"v":9.3},{"p":"HL","t":108.1,"v":31},{"p":"HL","t":112.2,"v":14},{"p":"HL","t":117.8,"v":28},{"p":"HL","t":117.8,"v":15.6},
{"p":"GBM","t":0,"v":450},{"p":"GBM","t":0,"v":380},{"p":"GBM","t":0,"v":320},{"p":"GBM","t":0,"v":270},{"p":"GBM","t":0,"v":230},{"p":"GBM","t":0,"v":190},{"p":"GBM","t":0,"v":160},{"p":"GBM","t":0,"v":135},{"p":"GBM","t":0,"v":115},{"p":"GBM","t":0,"v":100},{"p":"GBM","t":0,"v":85},{"p":"GBM","t":0,"v":72},{"p":"GBM","t":0,"v":60},
{"p":"GBM","t":0.3,"v":300},{"p":"GBM","t":0.3,"v":220},{"p":"GBM","t":0.3,"v":160},{"p":"GBM","t":0.3,"v":120},{"p":"GBM","t":0.3,"v":90},{"p":"GBM","t":0.6,"v":250},{"p":"GBM","t":0.6,"v":180},{"p":"GBM","t":0.6,"v":130},
{"p":"GBM","t":3.2,"v":150},{"p":"GBM","t":5.9,"v":60},{"p":"GBM","t":7.7,"v":55},
{"p":"GBM","t":12,"v":90},{"p":"GBM","t":12,"v":75},{"p":"GBM","t":12,"v":62},{"p":"GBM","t":12,"v":52},
{"p":"GBM","t":13,"v":120},{"p":"GBM","t":13,"v":100},{"p":"GBM","t":13,"v":85},{"p":"GBM","t":13,"v":72},{"p":"GBM","t":13,"v":62},{"p":"GBM","t":13,"v":53},{"p":"GBM","t":13,"v":45},
{"p":"GBM","t":13.5,"v":150},{"p":"GBM","t":13.5,"v":125},{"p":"GBM","t":13.5,"v":105},{"p":"GBM","t":13.5,"v":90},{"p":"GBM","t":13.5,"v":77},{"p":"GBM","t":13.5,"v":66},{"p":"GBM","t":13.5,"v":56},{"p":"GBM","t":13.5,"v":48},{"p":"GBM","t":13.5,"v":40},
{"p":"GBM","t":14,"v":170},{"p":"GBM","t":14,"v":140},{"p":"GBM","t":14,"v":115},{"p":"GBM","t":14,"v":95},{"p":"GBM","t":14,"v":80},{"p":"GBM","t":14,"v":68},{"p":"GBM","t":14,"v":58},{"p":"GBM","t":14,"v":50},{"p":"GBM","t":14,"v":42},{"p":"GBM","t":14,"v":35},{"p":"GBM","t":14,"v":18},
{"p":"GBM","t":14.5,"v":130},{"p":"GBM","t":14.5,"v":108},{"p":"GBM","t":14.5,"v":90},{"p":"GBM","t":14.5,"v":76},{"p":"GBM","t":14.5,"v":64},{"p":"GBM","t":14.5,"v":54},{"p":"GBM","t":14.5,"v":46},{"p":"GBM","t":14.5,"v":38},{"p":"GBM","t":14.5,"v":28},{"p":"GBM","t":14.5,"v":22},
{"p":"GBM","t":15,"v":110},{"p":"GBM","t":15,"v":92},{"p":"GBM","t":15,"v":78},{"p":"GBM","t":15,"v":65},{"p":"GBM","t":15,"v":55},{"p":"GBM","t":15,"v":46},{"p":"GBM","t":15,"v":33},
{"p":"GBM","t":16,"v":95},{"p":"GBM","t":16,"v":80},{"p":"GBM","t":16,"v":65},{"p":"GBM","t":16,"v":55},{"p":"GBM","t":16,"v":45},
{"p":"GBM","t":17,"v":85},{"p":"GBM","t":17,"v":70},{"p":"GBM","t":17,"v":60},{"p":"GBM","t":17,"v":50},
{"p":"GBM","t":18,"v":90},{"p":"GBM","t":19,"v":70},{"p":"GBM","t":20,"v":85},{"p":"GBM","t":20.5,"v":110},{"p":"GBM","t":21,"v":60},{"p":"GBM","t":22,"v":75},{"p":"GBM","t":23,"v":50},{"p":"GBM","t":24,"v":95},
{"p":"GBM","t":25.5,"v":120},{"p":"GBM","t":25.5,"v":90},{"p":"GBM","t":25.5,"v":70},{"p":"GBM","t":25.5,"v":55},
{"p":"GBM","t":26.5,"v":140},{"p":"GBM","t":26.5,"v":110},{"p":"GBM","t":26.5,"v":85},{"p":"GBM","t":26.5,"v":68},{"p":"GBM","t":26.5,"v":55},
{"p":"GBM","t":27,"v":160},{"p":"GBM","t":27,"v":130},{"p":"GBM","t":27,"v":105},{"p":"GBM","t":27,"v":85},{"p":"GBM","t":27,"v":70},{"p":"GBM","t":27,"v":56},{"p":"GBM","t":27,"v":45},
{"p":"GBM","t":27.5,"v":150},{"p":"GBM","t":27.5,"v":120},{"p":"GBM","t":27.5,"v":95},{"p":"GBM","t":27.5,"v":78},{"p":"GBM","t":27.5,"v":62},{"p":"GBM","t":27.5,"v":50},{"p":"GBM","t":27.5,"v":35},
{"p":"GBM","t":28,"v":140},{"p":"GBM","t":28,"v":112},{"p":"GBM","t":28,"v":90},{"p":"GBM","t":28,"v":72},{"p":"GBM","t":28,"v":58},{"p":"GBM","t":28,"v":46},
{"p":"GBM","t":28.5,"v":125},{"p":"GBM","t":28.5,"v":100},{"p":"GBM","t":28.5,"v":80},{"p":"GBM","t":28.5,"v":64},
{"p":"GBM","t":29.5,"v":110},{"p":"GBM","t":29.5,"v":85},{"p":"GBM","t":29.5,"v":65},{"p":"GBM","t":30.5,"v":95},{"p":"GBM","t":30.5,"v":70},
{"p":"GBM","t":31.5,"v":80},{"p":"GBM","t":32,"v":60},{"p":"GBM","t":32,"v":28},{"p":"GBM","t":32.5,"v":40},{"p":"GBM","t":33,"v":22},{"p":"GBM","t":34,"v":100},{"p":"GBM","t":34.5,"v":70},{"p":"GBM","t":34.9,"v":230},{"p":"GBM","t":34.9,"v":11.4},
{"p":"GBM","t":35,"v":55},{"p":"GBM","t":35.5,"v":45},{"p":"GBM","t":36,"v":35},{"p":"GBM","t":36,"v":25},{"p":"GBM","t":36.9,"v":159},{"p":"GBM","t":37,"v":30},{"p":"GBM","t":38,"v":50},{"p":"GBM","t":38,"v":65},
{"p":"GBM","t":40,"v":80},{"p":"GBM","t":40,"v":60},{"p":"GBM","t":40,"v":45},{"p":"GBM","t":40,"v":33},
{"p":"GBM","t":41,"v":100},{"p":"GBM","t":41,"v":75},{"p":"GBM","t":41,"v":58},{"p":"GBM","t":41,"v":44},{"p":"GBM","t":41,"v":35},{"p":"GBM","t":41.7,"v":10.5},
{"p":"GBM","t":42,"v":90},{"p":"GBM","t":42,"v":68},{"p":"GBM","t":42,"v":50},{"p":"GBM","t":42,"v":38},{"p":"GBM","t":42,"v":28},{"p":"GBM","t":43,"v":70},{"p":"GBM","t":43,"v":52},
{"p":"GBM","t":45,"v":50},{"p":"GBM","t":46,"v":42},{"p":"GBM","t":47,"v":38},{"p":"GBM","t":48,"v":30},{"p":"GBM","t":48.5,"v":26},{"p":"GBM","t":48.5,"v":4.5},{"p":"GBM","t":49,"v":45},{"p":"GBM","t":49,"v":55},{"p":"GBM","t":49.5,"v":35},{"p":"GBM","t":50,"v":30},
{"p":"GBM","t":52,"v":38},{"p":"GBM","t":53,"v":45},{"p":"GBM","t":54,"v":35},{"p":"GBM","t":55,"v":55},{"p":"GBM","t":55.5,"v":30},{"p":"GBM","t":56,"v":40},{"p":"GBM","t":57,"v":28},{"p":"GBM","t":58,"v":26},{"p":"GBM","t":59,"v":36},{"p":"GBM","t":60,"v":25},
{"p":"GBM","t":62.7,"v":55},{"p":"GBM","t":62.7,"v":39.6},{"p":"GBM","t":66.3,"v":35},{"p":"GBM","t":69,"v":29},{"p":"GBM","t":71.3,"v":46},{"p":"GBM","t":71.5,"v":27},{"p":"GBM","t":75.3,"v":26},{"p":"GBM","t":78.5,"v":73},{"p":"GBM","t":78.5,"v":27},
{"p":"GBM","t":81.7,"v":13.7},{"p":"GBM","t":83.5,"v":24},{"p":"GBM","t":85.8,"v":15.6},{"p":"GBM","t":87,"v":15.6},{"p":"GBM","t":88.8,"v":33},{"p":"GBM","t":90.3,"v":15},
{"p":"GBM","t":95.7,"v":37},{"p":"GBM","t":97.5,"v":35},{"p":"GBM","t":97.8,"v":26},{"p":"GBM","t":97.8,"v":18},{"p":"GBM","t":97.8,"v":12.6},{"p":"GBM","t":97.8,"v":10.4},{"p":"GBM","t":97.8,"v":3.4},
{"p":"GBM","t":102,"v":5.5},{"p":"GBM","t":102.5,"v":35},{"p":"GBM","t":104.3,"v":29},{"p":"GBM","t":104.3,"v":18},{"p":"GBM","t":104.8,"v":7.9},{"p":"GBM","t":106.6,"v":3.4},{"p":"GBM","t":106.6,"v":12.6},{"p":"GBM","t":107,"v":29},{"p":"GBM","t":109.3,"v":18},{"p":"GBM","t":110.7,"v":24},
{"p":"GBM","t":111.6,"v":18},{"p":"GBM","t":111.6,"v":12.6},{"p":"GBM","t":111.6,"v":8.6},{"p":"GBM","t":111.6,"v":0.53},{"p":"GBM","t":112.5,"v":4.9},{"p":"GBM","t":113,"v":29},{"p":"GBM","t":113.9,"v":2.8},{"p":"GBM","t":113.9,"v":15},{"p":"GBM","t":114.3,"v":10.4},{"p":"GBM","t":114.8,"v":18},
{"p":"GBM","t":115.7,"v":37},{"p":"GBM","t":116.1,"v":12.6},{"p":"GBM","t":117.9,"v":18},{"p":"GBM","t":118.4,"v":12.6},{"p":"GBM","t":118.7,"v":8.6},{"p":"GBM","t":118.8,"v":5.8},{"p":"GBM","t":118.8,"v":3.8},{"p":"GBM","t":119.7,"v":7}
]
},
"hconcat":[
{"width":34,"height":603,"data":{"values":[{"s":["Prediction-Corrected","Nivolumab Concentration [ug/mL]"]}]},"mark":{"type":"text","angle":270,"fontSize":16,"lineHeight":17,"color":"#000000","align":"center","baseline":"middle"},"encoding":{"text":{"field":"s"}},"view":{"stroke":null}},
{"vconcat":[
{"hconcat":[
 {"vconcat":[
  {"width":484,"height":25,"data":{"values":[{"s":"Adult MEL"}]},"mark":{"type":"text","fontSize":12.5,"color":"#1a1a1a"},"encoding":{"text":{"field":"s"}},"view":{"fill":"#d9d9d9","stroke":"#333333"}},
  {"width":484,"height":271,"view":{"stroke":"#333333","fill":"#ffffff"},
   "encoding":{
    "x":{"field":"t","type":"quantitative","scale":{"domain":[-6,126.1],"nice":false,"zero":false},"axis":{"values":[0,12.5,25,37.5,50,62.5,75,87.5,100,112.5,125],"labels":false,"ticks":false,"title":null,"gridWidth":{"condition":{"test":"datum.value % 25 == 0","value":1},"value":0.6}}},
    "y":{"field":"v","type":"quantitative","stack":null,"scale":{"type":"log","domain":[0.0011,3981],"nice":false},"axis":{"values":[0.01,0.1,1,10,100,1000],"format":".1f","labelExpr":"(datum.value == 0.1 || datum.value == 10 || datum.value == 1000) ? datum.label : ''","tickOpacity":{"condition":{"test":"datum.value == 0.1 || datum.value == 10 || datum.value == 1000","value":1},"value":0},"gridWidth":{"condition":{"test":"datum.value == 0.1 || datum.value == 10 || datum.value == 1000","value":1},"value":0.6},"title":null}}
   },
   "layer":[
    {"data":{"name":"bands"},"transform":[{"filter":"datum.p == 'MEL'"}],"mark":{"type":"area","opacity":0.2},"encoding":{"y2":{"field":"v2"},"fill":{"field":"pct","type":"nominal","scale":{"domain":["5%","50%","95%"],"range":["#e34a4a","#4a4ae3","#e34a4a"]},"legend":{"title":["Simulated Percentiles","95% CI (areas)"],"orient":"none","legendX":162,"legendY":-67.5,"direction":"horizontal","titleOrient":"left","titleBaseline":"top","titleAnchor":"middle","symbolType":"M-1,-0.585H1V0.585H-1Z","symbolSize":1681,"symbolOpacity":0.2,"symbolStrokeWidth":0,"labelOffset":11,"columnPadding":11,"titlePadding":11}}}},
    {"data":{"name":"obs"},"transform":[{"filter":"datum.p == 'MEL'"}],"mark":{"type":"circle","size":20,"color":"#000000","opacity":0.42,"stroke":"#000000","strokeWidth":0.6}},
    {"data":{"name":"lines"},"transform":[{"filter":"datum.p == 'MEL'"}],"mark":{"type":"line","strokeWidth":1.4},"encoding":{"stroke":{"field":"q","type":"nominal","scale":{"range":["#ff0000","#0000ff","#ff0000"]},"legend":{"title":["Observed Percentiles","(lines)"],"orient":"none","legendX":603,"legendY":-60,"direction":"horizontal","titleOrient":"left","titleBaseline":"top","titleAnchor":"start","symbolType":"stroke","symbolSize":900,"symbolStrokeWidth":1.5,"labelOffset":14,"columnPadding":13,"titlePadding":17}}}},
    {"data":{"name":"rug"},"transform":[{"filter":"datum.p == 'MEL'"}],"mark":{"type":"rule","strokeWidth":2,"color":"#000000"},"encoding":{"y":{"datum":3981,"type":"quantitative"},"y2":{"datum":2692}}}
   ]}
 ],"spacing":0},
 {"vconcat":[
  {"width":484,"height":25,"data":{"values":[{"s":"Adult Others"}]},"mark":{"type":"text","fontSize":12.5,"color":"#1a1a1a"},"encoding":{"text":{"field":"s"}},"view":{"fill":"#d9d9d9","stroke":"#333333"}},
  {"width":484,"height":271,"view":{"stroke":"#333333","fill":"#ffffff"},
   "encoding":{
    "x":{"field":"t","type":"quantitative","scale":{"domain":[-6,126.1],"nice":false,"zero":false},"axis":{"values":[0,12.5,25,37.5,50,62.5,75,87.5,100,112.5,125],"labels":false,"ticks":false,"title":null,"gridWidth":{"condition":{"test":"datum.value % 25 == 0","value":1},"value":0.6}}},
    "y":{"field":"v","type":"quantitative","stack":null,"scale":{"type":"log","domain":[0.0011,3981],"nice":false},"axis":{"values":[0.01,0.1,1,10,100,1000],"labels":false,"ticks":false,"gridWidth":{"condition":{"test":"datum.value == 0.1 || datum.value == 10 || datum.value == 1000","value":1},"value":0.6},"title":null}}
   },
   "layer":[
    {"data":{"name":"bands"},"transform":[{"filter":"datum.p == 'OTH'"}],"mark":{"type":"area","opacity":0.2},"encoding":{"y2":{"field":"v2"},"fill":{"field":"pct","type":"nominal","scale":{"domain":["5%","50%","95%"],"range":["#e34a4a","#4a4ae3","#e34a4a"]},"legend":null}}},
    {"data":{"name":"obs"},"transform":[{"filter":"datum.p == 'OTH'"}],"mark":{"type":"circle","size":20,"color":"#000000","opacity":0.42,"stroke":"#000000","strokeWidth":0.6}},
    {"data":{"name":"lines"},"transform":[{"filter":"datum.p == 'OTH'"}],"mark":{"type":"line","strokeWidth":1.4},"encoding":{"stroke":{"field":"q","type":"nominal","scale":{"range":["#ff0000","#0000ff","#ff0000"]},"legend":null}}},
    {"data":{"name":"rug"},"transform":[{"filter":"datum.p == 'OTH'"}],"mark":{"type":"rule","strokeWidth":2,"color":"#000000"},"encoding":{"y":{"datum":3981,"type":"quantitative"},"y2":{"datum":2692}}}
   ]}
 ],"spacing":0}
],"spacing":7},
{"hconcat":[
 {"vconcat":[
  {"width":484,"height":25,"data":{"values":[{"s":"Adult HL"}]},"mark":{"type":"text","fontSize":12.5,"color":"#1a1a1a"},"encoding":{"text":{"field":"s"}},"view":{"fill":"#d9d9d9","stroke":"#333333"}},
  {"width":484,"height":271,"view":{"stroke":"#333333","fill":"#ffffff"},
   "encoding":{
    "x":{"field":"t","type":"quantitative","scale":{"domain":[-6,126.1],"nice":false,"zero":false},"axis":{"values":[0,12.5,25,37.5,50,62.5,75,87.5,100,112.5,125],"labelExpr":"datum.value % 25 == 0 ? datum.label : ''","tickOpacity":{"condition":{"test":"datum.value % 25 == 0","value":1},"value":0},"gridWidth":{"condition":{"test":"datum.value % 25 == 0","value":1},"value":0.6},"title":null}},
    "y":{"field":"v","type":"quantitative","stack":null,"scale":{"type":"log","domain":[0.0011,3981],"nice":false},"axis":{"values":[0.01,0.1,1,10,100,1000],"format":".1f","labelExpr":"(datum.value == 0.1 || datum.value == 10 || datum.value == 1000) ? datum.label : ''","tickOpacity":{"condition":{"test":"datum.value == 0.1 || datum.value == 10 || datum.value == 1000","value":1},"value":0},"gridWidth":{"condition":{"test":"datum.value == 0.1 || datum.value == 10 || datum.value == 1000","value":1},"value":0.6},"title":null}}
   },
   "layer":[
    {"data":{"name":"bands"},"transform":[{"filter":"datum.p == 'HL'"}],"mark":{"type":"area","opacity":0.2},"encoding":{"y2":{"field":"v2"},"fill":{"field":"pct","type":"nominal","scale":{"domain":["5%","50%","95%"],"range":["#e34a4a","#4a4ae3","#e34a4a"]},"legend":null}}},
    {"data":{"name":"obs"},"transform":[{"filter":"datum.p == 'HL'"}],"mark":{"type":"circle","size":20,"color":"#000000","opacity":0.42,"stroke":"#000000","strokeWidth":0.6}},
    {"data":{"name":"lines"},"transform":[{"filter":"datum.p == 'HL'"}],"mark":{"type":"line","strokeWidth":1.4},"encoding":{"stroke":{"field":"q","type":"nominal","scale":{"range":["#ff0000","#0000ff","#ff0000"]},"legend":null}}},
    {"data":{"name":"rug"},"transform":[{"filter":"datum.p == 'HL'"}],"mark":{"type":"rule","strokeWidth":2,"color":"#000000"},"encoding":{"y":{"datum":3981,"type":"quantitative"},"y2":{"datum":2692}}}
   ]}
 ],"spacing":0},
 {"vconcat":[
  {"width":484,"height":25,"data":{"values":[{"s":"Adult GBM"}]},"mark":{"type":"text","fontSize":12.5,"color":"#1a1a1a"},"encoding":{"text":{"field":"s"}},"view":{"fill":"#d9d9d9","stroke":"#333333"}},
  {"width":484,"height":271,"view":{"stroke":"#333333","fill":"#ffffff"},
   "encoding":{
    "x":{"field":"t","type":"quantitative","scale":{"domain":[-6,126.1],"nice":false,"zero":false},"axis":{"values":[0,12.5,25,37.5,50,62.5,75,87.5,100,112.5,125],"labelExpr":"datum.value % 25 == 0 ? datum.label : ''","tickOpacity":{"condition":{"test":"datum.value % 25 == 0","value":1},"value":0},"gridWidth":{"condition":{"test":"datum.value % 25 == 0","value":1},"value":0.6},"title":null}},
    "y":{"field":"v","type":"quantitative","stack":null,"scale":{"type":"log","domain":[0.0011,3981],"nice":false},"axis":{"values":[0.01,0.1,1,10,100,1000],"labels":false,"ticks":false,"gridWidth":{"condition":{"test":"datum.value == 0.1 || datum.value == 10 || datum.value == 1000","value":1},"value":0.6},"title":null}}
   },
   "layer":[
    {"data":{"name":"bands"},"transform":[{"filter":"datum.p == 'GBM'"}],"mark":{"type":"area","opacity":0.2},"encoding":{"y2":{"field":"v2"},"fill":{"field":"pct","type":"nominal","scale":{"domain":["5%","50%","95%"],"range":["#e34a4a","#4a4ae3","#e34a4a"]},"legend":null}}},
    {"data":{"name":"obs"},"transform":[{"filter":"datum.p == 'GBM'"}],"mark":{"type":"circle","size":20,"color":"#000000","opacity":0.42,"stroke":"#000000","strokeWidth":0.6}},
    {"data":{"name":"lines"},"transform":[{"filter":"datum.p == 'GBM'"}],"mark":{"type":"line","strokeWidth":1.4},"encoding":{"stroke":{"field":"q","type":"nominal","scale":{"range":["#ff0000","#0000ff","#ff0000"]},"legend":null}}},
    {"data":{"name":"rug"},"transform":[{"filter":"datum.p == 'GBM'"}],"mark":{"type":"rule","strokeWidth":2,"color":"#000000"},"encoding":{"y":{"datum":3981,"type":"quantitative"},"y2":{"datum":2692}}}
   ]}
 ],"spacing":0}
],"spacing":2},
{"width":977,"height":22,"data":{"values":[{"s":"Time After Previous Dose [Days]"}]},"mark":{"type":"text","fontSize":16,"color":"#000000"},"encoding":{"text":{"field":"s"}},"view":{"stroke":null}}
],"spacing":5}
],
"spacing":13
}
